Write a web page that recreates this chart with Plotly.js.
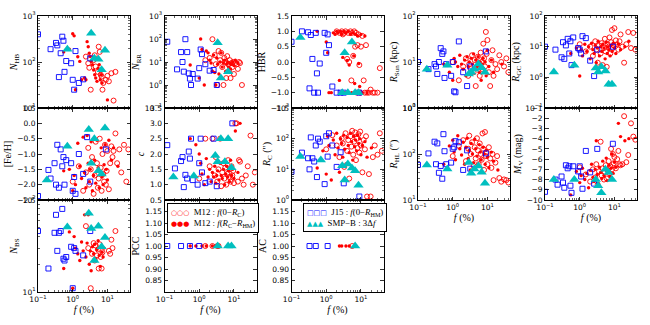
<!DOCTYPE html>
<html>
<head>
<meta charset="utf-8">
<script src="https://cdn.plot.ly/plotly-3.0.1.min.js"></script>
<style>body{margin:0;background:#fff}</style>
</head>
<body>
<div id="chart" style="width:650px;height:325px"></div>
<script>
// f (%) of each cluster, one list per sample
var f_sq  = [0.10, 0.12, 0.20, 0.23, 0.30, 0.33, 0.36, 0.40, 0.45, 0.50, 0.54, 0.58, 0.65, 0.90, 1.00, 1.10, 1.20, 1.50, 2.00, 2.60, 3.20, 9.00];
var f_tri = [0.18, 0.70, 2.9, 3.4, 4.2, 5.5, 6.8, 8.5];
var f_oc  = [1.0, 1.5, 2.0, 2.4, 2.8, 3.0, 3.3, 3.6, 4.0, 4.3, 4.6, 5.0, 5.3, 5.6, 6.0, 6.4, 6.8, 7.2, 7.6, 8.0, 8.5, 9.0, 9.5, 10, 11, 12, 13, 14, 15, 17, 19, 22, 25, 30, 35, 40];
var f_fd  = [0.55, 0.8, 1.0, 1.1, 1.2, 1.4, 1.6, 1.8, 2.0, 2.2, 2.4, 2.6, 2.8, 3.0, 3.2, 3.4, 3.7, 4.0, 4.3, 4.6, 5.0, 5.4, 5.8, 6.2, 6.6, 7.0, 7.5, 8.0, 8.6, 9.2, 10, 11, 13, 15, 20, 26];

// cluster parameters per panel (sq = J15, tri = SMP-B, oc = M12 f(0-Rc), fd = M12 f(Rc-Rhm))
var N_HB = {
	sq: [400, null, null, 190, null, 260, 230, 47, 155, 355, 290, 61, 105, 94, 41, 25, 173, 35, 42, null, 120, null],
	tri: [null, 190, null, 420, 120, 115, 68, 180],
	oc: [null, null, null, 131, 94, 75, 25, null, 110, 140, 80, null, 61, 215, 166, 53, 48, 25, 35, null, null, 41, null, 50, 38, null, 57, null, 14.5, 61],
	fd: [166, 190, 410, 370, 25, 130, 103, 41, null, 45, 41, 277, 215, 155, 131, 103, 87, 67, 53, 45, 38, 73, 87, 41, 53, 35, null, null, null, null, 15]
};
var N_RR = {
	sq: [null, 76, null, 4.8, 27, 10, 3.8, 98, 27, 3.2, 1.9, 1.0, 3.0, 1.9, 5.4, 35, 22, 8, 4.2, 4.5, 1.0],
	tri: [null, null, null, 69, 2.0, null, 3.8],
	oc: [null, 12, 15, 98, 20, 8, 1.0, 30, 12, 25, 6, 1.0, 15, 10, 2, 18, 8, 4, 12, 2, 9, 6, 10, 3, 9, 8, 5, 10, 9, 1.0],
	fd: [7.4, null, 2, 100, 35, 1.0, 30, 25, 12, 9, 4, 20, 3.5, 1.0, 15, 8, 3, 10, 25, 6, 9, 12, 4, 8, 10, 6, 9, 5, 8, 10, 7, 12, 9]
};
var HBR = {
	sq: [0.66, null, 1.0, null, 0.97, -0.86, 0.88, 0.1, -1.0, 0.95, -0.37, -1.0, -0.05, 0.95, 0.3, 0.9, 0.55, -0.8, -1.0, -1.0, -1.0, -1.0],
	tri: [0.8, null, -1.0, 0.3, -1.0, 0.65, -1.0, -1.0],
	oc: [null, null, 1.0, 0.95, 1.0, 0.9, 0.95, 1.0, 0.1, 0.95, 0.0, 1.0, -0.6, 0.95, 0.2, 1.0, 0.5, 0.95, -1.0, 0.55, 0.9, -0.1, -1.0, 0.5, 0.85, -0.6, -1.0, 0.55, -1.0, -1.0, -0.9, -1.0, -1.0, -1.0, -0.2],
	fd: [1.0, null, 0.65, 0.3, -1.0, -1.0, 0.95, 0.9, 1.0, 0.95, -0.6, 1.0, 0.9, 0.15, 1.0, -1.0, 0.95, 0.05, 1.0, -0.1, 0.9, -1.0, 0.95, 0.2, -0.7, 0.9, -1.0, 0.85, -0.05, -0.8, 0.9, -1.0, 0.85, -1.0]
};
var R_SUN = {
	sq: [10, null, 7, null, 9, 8, 5.5, 10, 20, 15, 17, 4.5, 9, 5, 10, 2.3, 2.2, 28, 6, 3, 8, 17],
	tri: [7, 8.5, 5.5, 6, 7, 9, 7.5, 6],
	oc: [10, 4, 8, 12, 5, 9, 7, 14, 6, 11, 3, 8, 13, 9, 5, 16, 10, 7, 25, 12, 8, 45, 15, 30, 6, 3, 11, 18, 5, 9, 7, 14, 10, 8, 12, 6],
	fd: [9, 6, 4, 12, 10, 8, 14, 9, 7, 11, 5, 13, 8, 10, 6, 12, 9, 15, 7, 11, 8, 13, 6, 10, 4, 9, 12, 7, 10, 5, 18, 8, 11, 6, null, 9]
};
var R_GC = {
	sq: [10, null, 8, null, 4.5, 14, 4, 11, 18, 6, 15, 2.5, 20, 9, 8, 6, 22, 19, 3.5, 1.1, 8, 10],
	tri: [1.5, 2.5, 2.0, 1.5, 2.2, 1.6, 0.6, 0.6],
	oc: [12, 7, 10, 5, 15, 8, 3, 11, 6, 13, 2.5, 9, 18, 7, 2.2, 12, 10, 20, 6, 14, 35, 9, 11, 40, 16, 12, 8, 15, 25, 10, 3, 12, 30, 9, 28, 8],
	fd: [6, 9, 1.1, 8, 5, 12, 7, 10, 4, 13, 8, 6, 11, 3, 9, 15, 5, 10, 7, 12, 9, 4, 14, 6, 10, 8, 5, 11, 7, 13, 9, 6, 12, 8, 10, 15]
};
var FEH = {
	sq: [-2.37, null, -1.52, -1.8, -1.3, -2.0, -0.7, -2.1, -0.85, -1.4, -1.1, -2.0, -1.2, -1.3, -2.2, -1.75, -2.3, -1.0, -1.65, -0.45, -1.9, -0.85],
	tri: [-1.85, -0.75, -0.2, -1.3, -0.5, -1.55, -1.65, -0.15],
	oc: [-1.9, -1.4, -2.2, -1.6, -0.8, -2.0, -1.5, -1.1, -2.3, -1.7, -0.6, -1.3, -2.1, -1.8, -0.5, -1.45, -2.2, -1.0, -1.65, -1.9, -0.7, -2.0, -1.55, -0.9, -2.15, -1.3, -0.75, -1.1, -0.9, -0.33, -1.3, -0.85, -1.6, -0.7, -1.9, -0.85],
	fd: [-1.55, -1.5, -2.2, -1.7, -2.0, -0.65, -1.4, -1.8, -0.45, -1.6, -2.1, -0.4, -1.3, -1.9, -1.5, -0.6, -2.2, -1.7, -1.2, -1.95, -0.55, -1.45, -2.1, -1.6, -0.8, -1.75, -2.0, -1.35, -0.7, -1.5, -1.85, -0.55, -1.2, -0.8, -1.4]
};
var C = {
	sq: [null, 2.29, 1.53, null, 1.77, 1.9, 0.92, 1.32, 1.2, 2.08, 1.85, 2.5, 1.15, 1.0, 1.7, 2.5, 1.4, 1.05, 1.1, 2.5, 0.95, 3.0],
	tri: [1.25, 1.28, 1.95, 1.75, 2.5, 1.75, 2.5, 1.55],
	oc: [1.2, 2.5, 1.6, 2.5, 1.3, 1.9, 1.1, 1.5, 2.5, 0.95, 1.4, 1.7, 1.2, 1.55, 1.0, 1.35, 1.8, 1.25, 1.5, 1.1, 1.6, 1.3, 1.45, 1.05, 3.0, 3.0, 1.1, 1.8, 1.75, 1.2, 1.0, 1.3, 1.6, 2.6, 1.0, 1.4],
	fd: [2.5, 2.3, 2.0, 1.7, 1.35, 1.0, 1.85, 1.25, 1.5, 1.1, 1.4, 1.25, 1.6, 1.05, 1.3, 1.45, 1.15, 1.7, 1.3, 1.2, 1.5, 1.0, 1.35, 1.6, 1.25, 1.45, 1.1, 1.8, 1.3, 1.5, 1.2, 2.75, 1.4, 3.0]
};
var R_C = {
	sq: [8.3, null, 35, null, 23, 10, 110, 23, 18, 60, 5.6, 100, 80, 3.3, 120, 26, 150, 60, 12, 36, 3.5, 1.3],
	tri: [26, 20, 13, 4.5, 15, 11, 9, 3.0],
	oc: [45, 130, 60, 25, 100, 70, 12, 150, 40, 90, 5, 120, 55, 180, 30, 80, 160, 20, 100, 50, 140, 35, 170, 60, 8, 90, 45, 120, 1.3, 7, 1.3, 25, 60, 30, 150, 40],
	fd: [11, 40, 7, 120, 60, 4.5, 90, 30, 150, 50, 8, 100, 70, 25, 130, 45, 15, 110, 60, 35, 150, 80, 20, 120, 55, 90, 40, 130, 70, 100, 30, 60, 80, 25, 50]
};
var R_HL = {
	sq: [58, null, 103, null, 185, 60, 170, 39, 55, 29, 270, 115, 60, 65, 130, 140, 190, 180, 45, 120, 48, 103],
	tri: [58, 47, 65, 38, 47, 55, 40, 23],
	oc: [90, 150, 200, 70, 130, 250, 100, 180, 55, 140, 80, 220, 120, 60, 170, 100, 75, 280, 130, 45, 300, 90, 110, 60, 140, 80, 50, 100, 27, 65, 90, 30, 25, 28, 27, 24],
	fd: [60, 150, 200, 110, 75, 250, 130, 95, 180, 60, 140, 220, 80, 120, 45, 170, 100, 65, 210, 130, 90, 55, 160, 110, 75, 40, 140, 100, 60, 120, 85, 50, 110, 70, 45]
};
var M_V = {
	sq: [-9.2, null, -8.0, -8.5, -7.7, -8.3, -8.8, -6.6, -6.9, -6.7, -8.6, -9.3, -6.7, -7.2, -6.7, -7.7, -8.9, -5.2, -7.3, -8.4, -5.0, -4.5],
	tri: [-8.0, -8.0, -8.0, -8.6, -9.3, -7.0, -7.3, -8.0],
	oc: [-6.8, -7.5, -8.2, -7.0, -7.8, -6.5, -8.5, -7.2, -4.3, -7.6, -6.9, -8.0, -7.3, -6.6, -7.9, -7.1, -6.2, -7.4, -6.7, -5.0, -7.0, -5.5, -6.4, -5.8, -6.9, -6.0, -5.2, -6.5, -6.6, -6.5, -1.8, -6.3, -5.6, -2.5, -3.8, -4.1],
	fd: [-9.5, -7.2, -8.3, -7.6, -6.9, -8.0, -7.4, -8.8, -7.1, -6.5, -7.8, -8.2, -7.0, -4.2, -7.5, -8.4, -6.8, -7.3, -7.9, -6.2, -7.6, -7.0, -5.9, -8.1, -7.2, -6.6, -7.7, -6.9, -5.5, -7.4, -6.3, -6.8, -2.5, -3.8, -4.2, -4.0]
};
var N_BS = {
	sq: [46, null, 18, null, 44, 69, 28, 44, 46, 80, 23, 22, 24, 31, 11, 30, 28, null, 25, null, 46],
	tri: [null, 51, 72, 49, 22, 52, 31, 39],
	oc: [null, null, null, 52, 30, null, 11, 26, 34, 22, 32, 25, 29, 18, 33, 24, 18, 27, null, null, null, null, null, null, 28, 26, 37, 30, null, 46],
	fd: [18, 45, 11, 40, 30, 26, 22, 35, 28, 69, 24, 34, 69, 20, 28, 17, 31, 26, 33, 23, 29, 36, 25, 19, 31, 27, 24, 30]
};
var PCC = {
	sq: [null, 1, null, null, 1, null, null, null, null, null, 1, null, null, null, 1],
	tri: [null, null, null, 1, null, null, 1, 1],
	oc: [null, 1, null, 1, null, null, 1, 1],
	fd: [1, 1, null, null, 1, null, 1, null, null, null, 1, null, null, 1]
};
var AC = {
	sq: [null, null, null, null, null, 1, null, null, null, 1, null, null, null, null, null, 1],
	tri: [null, null, null, null, null, null, 1],
	oc: [null, null, null, null, null, null, null, null, null, null, null, null, null, 1],
	fd: [null, null, null, null, null, null, null, null, null, null, 1, null, 1, null, null, null, 1, null, null, 1]
};

var panels = [
	{d: N_HB, row: 0, col: 0, log: true, range: [1, 3], tv: [10, 100, 1000], title: '<i>N</i><sub>HB</sub>'},
	{d: N_RR, row: 0, col: 1, log: true, range: [-1, 3], tv: [0.1, 1, 10, 100, 1000], title: '<i>N</i><sub>RR</sub>'},
	{d: HBR, row: 0, col: 2, range: [-1.5, 1.5], dtick: 0.5, fmt: '.1f', title: 'HBR'},
	{d: R_SUN, row: 0, col: 3, log: true, range: [0, 2], tv: [1, 10, 100], title: '<i>R</i><sub>Sun</sub> (kpc)'},
	{d: R_GC, row: 0, col: 4, log: true, range: [-1, 2], tv: [0.1, 1, 10, 100], title: '<i>R</i><sub>GC</sub> (kpc)'},
	{d: FEH, row: 1, col: 0, range: [-2.5, 0.5], dtick: 0.5, fmt: '.1f', title: '[Fe/H]'},
	{d: C, row: 1, col: 1, range: [0.5, 3.5], dtick: 0.5, fmt: '.1f', title: '<i>c</i>'},
	{d: R_C, row: 1, col: 2, log: true, range: [0, 3], tv: [1, 10, 100, 1000], title: '<i>R</i><sub>C</sub> (″)'},
	{d: R_HL, row: 1, col: 3, log: true, range: [1, 3], tv: [10, 100, 1000], title: '<i>R</i><sub>HL</sub> (″)', bottom: true},
	{d: M_V, row: 1, col: 4, range: [-10, -1], dtick: 1, fmt: 'd', title: '<i>M</i><sub>V</sub> (mag)', bottom: true},
	{d: N_BS, row: 2, col: 0, log: true, range: [1, 2], tv: [10, 100], title: '<i>N</i><sub>BS</sub>', bottom: true},
	{d: PCC, row: 2, col: 1, range: [0.8, 1.2], lin: [0.85, 0.90, 0.95, 1.00, 1.05, 1.10, 1.15], title: 'PCC', bottom: true},
	{d: AC, row: 2, col: 2, range: [0.8, 1.2], lin: [0.85, 0.90, 0.95, 1.00, 1.05, 1.10, 1.15], title: 'AC', bottom: true}
];

var W = 650, H = 325, PW = 92, PH = 92;
var colLeft = [38, 164.5, 291.5, 418, 545];
var rowTop = [16, 108, 200];

function pow10(v) {
	var e = Math.round(Math.log10(v));
	return '10<sup>' + (e < 0 ? '−' + (-e) : e) + '</sup>';
}
function minorTicks(lo, hi) {
	var out = [];
	for (var k = Math.floor(lo); k < Math.ceil(hi); k++)
		for (var m = 2; m < 10; m++) out.push(m * Math.pow(10, k));
	return out;
}

var axisStyle = {
	showline: true, linecolor: 'black', linewidth: 1, mirror: 'allticks',
	ticks: 'inside', ticklen: 3.5, tickwidth: 0.8, tickcolor: 'black',
	showgrid: false, zeroline: false,
	tickfont: {family: 'DejaVu Sans', size: 7.5, color: 'black'}
};
var titleFont = {family: 'Liberation Serif', size: 10, color: 'black'};

var markers = {
	oc: {symbol: 'circle-open', size: 5, color: 'red', line: {width: 0.9, color: 'red'}},
	fd: {symbol: 'circle', size: 3.4, color: 'red'},
	sq: {symbol: 'square-open', size: 5, color: 'blue', line: {width: 0.9, color: 'blue'}},
	tri: {symbol: 'triangle-up', size: 9, color: '#00BFBF'}
};
var fx = {oc: f_oc, fd: f_fd, sq: f_sq, tri: f_tri};

function sym(color, s) {
	return '<span style="color:' + color + ';font-family:DejaVu Sans;font-size:7px">' + s + '</span>  ';
}
var legendBox = {
	xref: 'paper', yref: 'paper', xanchor: 'left', yanchor: 'top',
	showarrow: false, align: 'left',
	bordercolor: 'black', borderwidth: 1, borderpad: 3, bgcolor: 'white',
	font: {family: 'Liberation Serif', size: 8.8, color: 'black'}
};

var data = [];
var layout = {
	width: W, height: H, autosize: false,
	margin: {l: 0, r: 0, t: 0, b: 0},
	paper_bgcolor: 'white', plot_bgcolor: 'white',
	showlegend: false,
	annotations: [
		Object.assign({}, legendBox, {
			x: 167 / W, y: 1 - 203 / H,
			text: sym('red', '○○○') + 'M12 : <i>f</i>(0−<i>R</i><sub>C</sub>)' +
				'<br>' + sym('red', '●●●') + 'M12 : <i>f</i>(<i>R</i><sub>C</sub>−<i>R</i><sub>HM</sub>)'
		}),
		Object.assign({}, legendBox, {
			x: 303 / W, y: 1 - 203 / H,
			text: sym('blue', '□□□') + 'J15 : <i>f</i>(0−<i>R</i><sub>HM</sub>)' +
				'<br>' + sym('#00BFBF', '▲▲▲') + 'SMP−B : 3Δ<i>f</i>'
		})
	]
};

panels.forEach(function (p, i) {
	var k = i + 1;
	var L = colLeft[p.col], T = rowTop[p.row];
	var bottom = p.bottom || p.row === 2;

	var xa = Object.assign({}, axisStyle, {
		domain: [L / W, (L + PW) / W], anchor: 'y' + k,
		type: 'log', range: [-1, 1.65],
		tickmode: 'array', tickvals: [0.1, 1, 10], ticktext: [0.1, 1, 10].map(pow10),
		minor: {tickmode: 'array', tickvals: minorTicks(-1, 2), ticks: 'inside', ticklen: 2, tickcolor: 'black', tickwidth: 0.6},
		showticklabels: bottom
	});
	if (bottom) xa.title = {text: '<i>f</i> (%)', font: titleFont, standoff: 2};

	var ya = Object.assign({}, axisStyle, {
		domain: [1 - (T + PH) / H, 1 - T / H], anchor: 'x' + k,
		range: p.range,
		title: {text: p.title, font: titleFont, standoff: 3}
	});
	if (p.log) {
		ya.type = 'log';
		ya.tickmode = 'array';
		ya.tickvals = p.tv;
		ya.ticktext = p.tv.map(pow10);
		ya.minor = {tickmode: 'array', tickvals: minorTicks(p.range[0], p.range[1]), ticks: 'inside', ticklen: 2, tickcolor: 'black', tickwidth: 0.6};
	} else if (p.lin) {
		ya.tickmode = 'array';
		ya.tickvals = p.lin;
		ya.ticktext = p.lin.map(function (v) { return v.toFixed(2); });
	} else {
		ya.tickmode = 'linear';
		ya.tick0 = 0;
		ya.dtick = p.dtick;
		ya.tickformat = p.fmt;
	}
	layout['xaxis' + k] = xa;
	layout['yaxis' + k] = ya;

	['oc', 'fd', 'sq', 'tri'].forEach(function (s) {
		data.push({
			type: 'scatter', mode: 'markers',
			x: fx[s], y: p.d[s],
			xaxis: 'x' + k, yaxis: 'y' + k,
			marker: markers[s],
			hoverinfo: 'skip'
		});
	});
});

Plotly.newPlot('chart', data, layout, {displayModeBar: false, staticPlot: true});
</script>
</body>
</html>
